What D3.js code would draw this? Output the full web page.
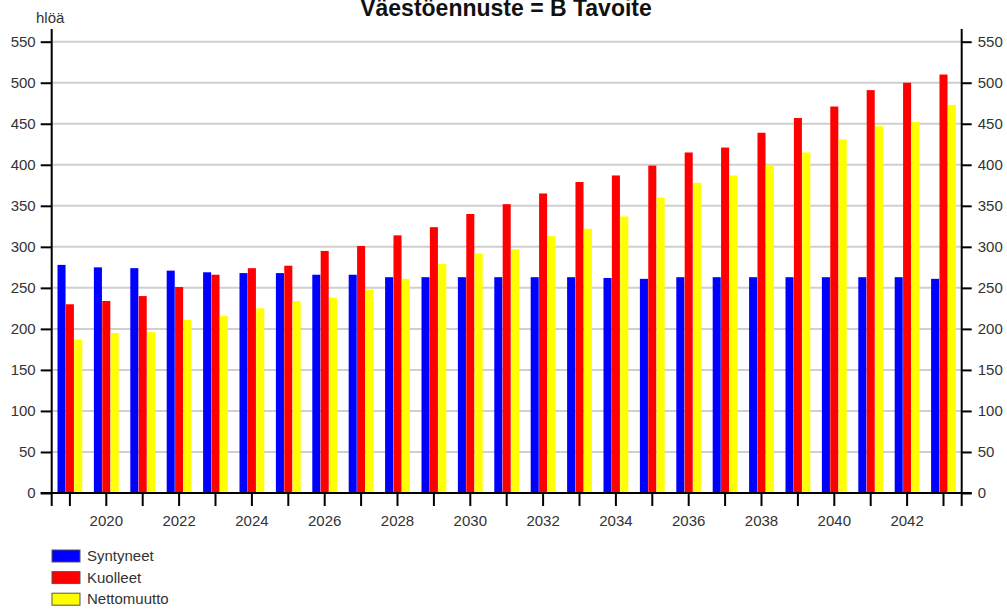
<!DOCTYPE html>
<html>
<head>
<meta charset="utf-8">
<script src="https://cdn.jsdelivr.net/npm/d3@7"></script>
<style>
  html, body { margin: 0; padding: 0; background: #fff; }
  svg { display: block; font-family: Arial, "Liberation Sans", sans-serif; }
</style>
</head>
<body>
<svg id="chart" width="1007" height="610"></svg>
<script>
// Population forecast: births, deaths and net migration per year
const years = d3.range(2019, 2044);
const syntyneet = [278, 275, 274, 271, 269, 268, 268, 266, 266, 263, 263, 263, 263, 263, 263, 262, 261, 263, 263, 263, 263, 263, 263, 263, 261];
const kuolleet = [230, 234, 240, 251, 266, 274, 277, 295, 301, 314, 324, 340, 352, 365, 379, 387, 399, 415, 421, 439, 457, 471, 491, 500, 510];
const nettomuutto = [187, 195, 196, 211, 216, 225, 234, 238, 248, 261, 279, 292, 297, 313, 322, 337, 360, 378, 387, 400, 415, 431, 447, 452, 473];
const seriesNames = ["Syntyneet", "Kuolleet", "Nettomuutto"];
const seriesColors = ["#0000ff", "#ff0000", "#ffff00"];
const yTicks = [0, 50, 100, 150, 200, 250, 300, 350, 400, 450, 500, 550];
const title = "Väestöennuste = B Tavoite";
const unitLabel = "hlöä";

const seriesValues = [syntyneet, kuolleet, nettomuutto];
const rows = years.map((yr, i) => ({ year: yr, values: seriesValues.map(s => s[i]) }));

const svg = d3.select("#chart");
const left = 51.7, right = 961.7, bottom = 493, axisTop = 29;

const x = d3.scaleBand().domain(years).range([left, right]).padding(0);
const groupW = x.bandwidth() * 0.7;
const xInner = d3.scaleBand().domain(d3.range(3)).range([0, groupW]).padding(0.04);
const y = d3.scaleLinear().domain([0, 550]).range([bottom, 41.7]);

// horizontal gridlines
svg.append("g")
  .selectAll("line")
  .data(yTicks.filter(d => d > 0))
  .join("line")
  .attr("x1", left).attr("x2", right)
  .attr("y1", d => y(d)).attr("y2", d => y(d))
  .attr("stroke", "#cfcfcf").attr("stroke-width", 2);

// bars
const groups = svg.append("g")
  .selectAll("g")
  .data(rows)
  .join("g")
  .attr("transform", d => `translate(${x(d.year) + (x.bandwidth() - groupW) / 2},0)`);

groups.selectAll("rect")
  .data(d => d.values.map((v, k) => ({ k, v })))
  .join("rect")
  .attr("x", d => xInner(d.k))
  .attr("width", xInner.bandwidth())
  .attr("y", d => y(d.v))
  .attr("height", d => y(0) - y(d.v))
  .attr("fill", d => seriesColors[d.k]);

// left axis
const yAxisL = svg.append("g")
  .attr("transform", `translate(${left},0)`)
  .call(d3.axisLeft(y).tickValues(yTicks).tickSize(11).tickPadding(5));
// right axis
const yAxisR = svg.append("g")
  .attr("transform", `translate(${right},0)`)
  .call(d3.axisRight(y).tickValues(yTicks).tickSize(10).tickPadding(6));
// bottom axis: a tick for every year, labels on even years
const xAxis = svg.append("g")
  .attr("transform", `translate(0,${bottom})`)
  .call(d3.axisBottom(x).tickSize(13).tickPadding(9)
    .tickFormat(d => d % 2 === 0 ? d : ""));

[yAxisL, yAxisR, xAxis].forEach(g => {
  g.select(".domain").remove();
  g.selectAll(".tick line").attr("stroke", "#000").attr("stroke-width", 2);
  g.selectAll(".tick text").attr("fill", "#333").style("font-size", "15px")
    .style("font-family", "Arial, 'Liberation Sans', sans-serif");
});

// axis lines
const axisLines = [
  [left, axisTop, left, bottom + 13],
  [right, axisTop, right, bottom + 13],
  [left - 11, bottom, right + 10, bottom]
];
svg.append("g").selectAll("line")
  .data(axisLines)
  .join("line")
  .attr("x1", d => d[0]).attr("y1", d => d[1])
  .attr("x2", d => d[2]).attr("y2", d => d[3])
  .attr("stroke", "#000").attr("stroke-width", 2);

// title and unit
svg.append("text")
  .attr("x", 506).attr("y", 16)
  .attr("text-anchor", "middle")
  .style("font-size", "23px").style("font-weight", "bold")
  .attr("fill", "#111")
  .text(title);

svg.append("text")
  .attr("x", 36).attr("y", 23)
  .style("font-size", "15px")
  .attr("fill", "#333")
  .text(unitLabel);

// legend
const legend = svg.append("g")
  .selectAll("g")
  .data(seriesNames)
  .join("g")
  .attr("transform", (d, i) => `translate(52,${550 + i * 21.6})`);

legend.append("rect")
  .attr("width", 28).attr("height", 12)
  .attr("fill", (d, i) => seriesColors[i])
  .attr("stroke", "#555").attr("stroke-width", 1);

legend.append("text")
  .attr("x", 35).attr("y", 11)
  .style("font-size", "15px")
  .attr("fill", "#333")
  .text(d => d);
</script>
</body>
</html>
